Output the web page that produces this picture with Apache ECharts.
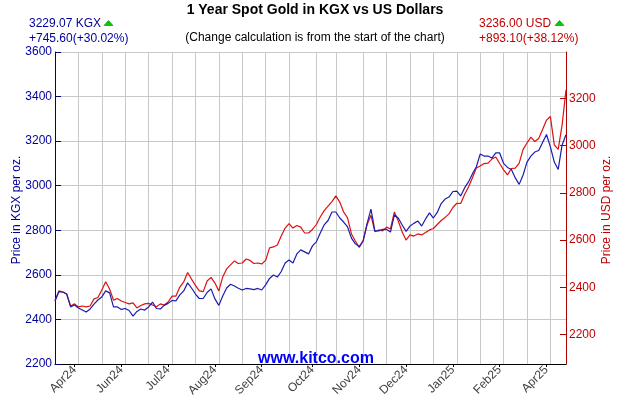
<!DOCTYPE html>
<html><head><meta charset="utf-8">
<script src="https://cdn.jsdelivr.net/npm/echarts@6/dist/echarts.min.js"></script>
<style>html,body{margin:0;padding:0;background:#fff}#c{width:630px;height:400px}</style>
</head><body><div id="c"></div>
<script>
// KGX spot gold (left axis)
const kgx = [2483,2525,2523,2514,2456,2465,2451,2442,2433,2447,2469,2487,2501,2528,2519,2456,2456,2445,2449,2440,
2415,2436,2447,2442,2456,2478,2449,2447,2463,2472,2485,2483,2510,2528,2564,2541,2514,2494,2494,2521,
2537,2492,2463,2505,2541,2558,2550,2540,2532,2539,2537,2534,2539,2532,2555,2584,2599,2590,2615,2653,
2667,2653,2694,2712,2703,2694,2730,2748,2788,2824,2844,2882,2882,2855,2837,2815,2765,2739,2727,2752,
2830,2895,2797,2797,2804,2804,2792,2869,2855,2824,2795,2819,2831,2842,2819,2851,2878,2855,2880,2920,
2940,2949,2974,2976,2954,2990,3017,3053,3084,3142,3133,3133,3124,3147,3147,3100,3082,3073,3035,3006,
3048,3106,3133,3151,3158,3194,3230,3174,3106,3073,3183,3229.07];
// USD spot gold (right axis)
const usd = [2342.9,2385,2380,2372,2321,2330,2317,2321,2317,2321,2351,2357,2389,2424,2393,2346,2353,2342,2336,2330,
2334,2313,2323,2330,2332,2325,2318,2330,2325,2338,2363,2363,2401,2423,2463,2435,2408,2385,2382,2427,
2442,2418,2385,2444,2478,2495,2512,2501,2503,2520,2514,2501,2503,2499,2514,2567,2571,2579,2617,2651,
2670,2651,2662,2655,2630,2630,2645,2666,2698,2725,2744,2763,2787,2761,2719,2694,2626,2596,2569,2598,
2665,2705,2636,2643,2639,2655,2647,2719,2681,2634,2600,2622,2617,2626,2622,2632,2643,2649,2666,2683,
2696,2711,2738,2756,2755,2793,2825,2863,2905,2914,2924,2926,2943,2952,2924,2897,2876,2903,2905,2926,
2984,3011,3036,3017,3030,3068,3108,3123,3003,2984,3087,3236];
const tickLabels = ['Apr24','Jun24','Jul24','Aug24','Sep24','Oct24','Nov24','Dec24','Jan25','Feb25','Apr25'];
const tickIndex = [5,17,29,41,53,66,78,90,102,114,126];
const gridIndex = [6,12,18,24,30,36,42,48,54,60,67,72,79,85,91,97,103,109,115,121,127];
const rightTicks = [2200,2400,2600,2800,3000,3200];
const leftMin = 2200, leftMax = 3600, leftStep = 200;
const usdStart = 2342.9, kgxStart = 2483.47;
const ratio = usdStart / kgxStart;

const categories = kgx.map((_, i) => String(i));
const labelMap = {};
tickIndex.forEach((ix, k) => labelMap[ix] = tickLabels[k]);

const FONT = 'Liberation Sans, Arial, sans-serif';
const BLUE_T = '#000099', RED_T = '#c00000';
const plain = (v) => String(Math.round(v));

const chart = echarts.init(document.getElementById('c'), null, {renderer: 'canvas'});
chart.setOption({
  animation: false,
  backgroundColor: '#fff',
  grid: {left: 55, right: 64, top: 52, bottom: 36},
  xAxis: {
    type: 'category', data: categories, boundaryGap: false,
    axisLine: {lineStyle: {color: '#000', width: 1}},
    axisTick: {show: true, length: 3, interval: (i) => labelMap[i] !== undefined, lineStyle: {color: '#000'}},
    axisLabel: {interval: (i) => labelMap[i] !== undefined, formatter: (v, i) => labelMap[i] || '',
      rotate: 45, fontSize: 12, fontFamily: FONT, color: '#404040', margin: 4},
    splitLine: {show: true, interval: (i) => gridIndex.indexOf(i) >= 0, lineStyle: {color: '#c8c8c8', width: 1}}
  },
  yAxis: [{
    type: 'value', position: 'left', min: leftMin, max: leftMax, interval: leftStep,
    axisLine: {show: true, lineStyle: {color: '#000080'}},
    axisTick: {show: true, inside: true, length: 6, lineStyle: {color: '#000080'}},
    axisLabel: {color: BLUE_T, fontSize: 12, fontFamily: FONT, margin: 3, formatter: plain},
    splitLine: {show: true, lineStyle: {color: '#c8c8c8', width: 1}}
  }, {
    type: 'value', position: 'right', min: leftMin * ratio, max: leftMax * ratio,
    axisLine: {show: true, lineStyle: {color: '#aa0000'}},
    axisTick: {show: true, inside: true, length: 6, customValues: rightTicks, lineStyle: {color: '#aa0000'}},
    axisLabel: {color: RED_T, fontSize: 12, fontFamily: FONT, margin: 3, customValues: rightTicks, formatter: plain},
    splitLine: {show: false}
  }],
  series: [{
    type: 'line', yAxisIndex: 1, data: usd, symbol: 'none', smooth: false,
    lineStyle: {color: '#dd1111', width: 1.2}, z: 2
  }, {
    type: 'line', yAxisIndex: 0, data: kgx, symbol: 'none', smooth: false,
    lineStyle: {color: '#1c1cb0', width: 1.2}, z: 3
  }],
  graphic: [
    {type: 'text', left: 'center', top: 3, style: {text: '1 Year Spot Gold in KGX vs US Dollars', font: 'bold 14px ' + FONT, fill: '#000'}},
    {type: 'text', x: 315, y: 37.5, style: {text: '(Change calculation is from the start of the chart)', font: '12px ' + FONT, fill: '#000', align: 'center', verticalAlign: 'middle'}},
    {type: 'text', x: 29, y: 24, style: {text: '3229.07 KGX', font: '12px ' + FONT, fill: BLUE_T, verticalAlign: 'middle'}},
    {type: 'text', x: 29, y: 38.5, style: {text: '+745.60(+30.02%)', font: '12px ' + FONT, fill: BLUE_T, verticalAlign: 'middle'}},
    {type: 'text', x: 479, y: 24, style: {text: '3236.00 USD', font: '12px ' + FONT, fill: RED_T, verticalAlign: 'middle'}},
    {type: 'text', x: 479, y: 38.5, style: {text: '+893.10(+38.12%)', font: '12px ' + FONT, fill: RED_T, verticalAlign: 'middle'}},
    {type: 'polygon', shape: {points: [[104, 25.5], [108.5, 20.5], [113, 25.5]]}, style: {fill: '#00cc00', stroke: '#008800', lineWidth: 0.6}},
    {type: 'polygon', shape: {points: [[555, 25.5], [559.5, 20.5], [564, 25.5]]}, style: {fill: '#00cc00', stroke: '#008800', lineWidth: 0.6}},
    {type: 'text', x: 17, y: 210, rotation: Math.PI / 2, style: {text: 'Price in KGX per oz.', font: '12px ' + FONT, fill: BLUE_T, align: 'center', verticalAlign: 'middle'}},
    {type: 'text', x: 607, y: 210, rotation: Math.PI / 2, style: {text: 'Price in USD per oz.', font: '12px ' + FONT, fill: RED_T, align: 'center', verticalAlign: 'middle'}},
    {type: 'text', x: 316, y: 359, z: 10, style: {text: 'www.kitco.com', font: 'bold 16px ' + FONT, fill: '#0000ff', align: 'center', verticalAlign: 'middle'}}
  ]
});
</script>
</body></html>
